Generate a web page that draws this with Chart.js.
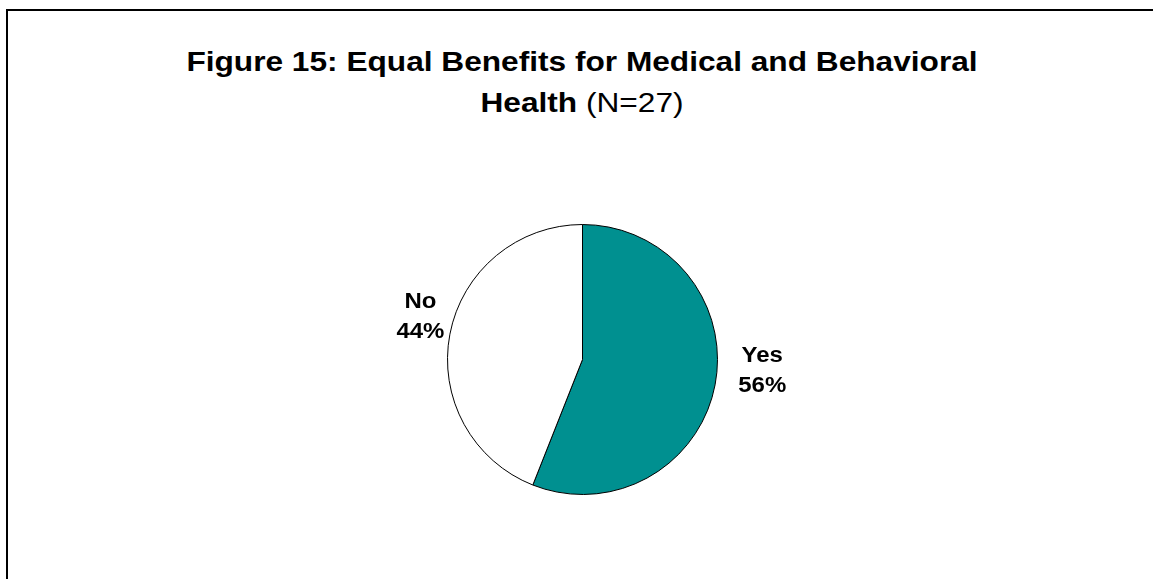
<!DOCTYPE html>
<html>
<head>
<meta charset="utf-8">
<script src="https://cdn.jsdelivr.net/npm/chart.js@4/dist/chart.umd.min.js"></script>
<style>
  html, body { margin: 0; padding: 0; background: #fff; }
  #wrap { position: relative; width: 1153px; height: 579px; overflow: hidden; }
  #frame {
    position: absolute; left: 6px; top: 9px; right: -10px; bottom: -10px;
    border-left: 2px solid #000; border-top: 2px solid #000;
  }
  #title {
    position: absolute; left: 82px; width: 1000px; top: 41px;
    text-align: center; font-family: "Liberation Sans", Arial, sans-serif;
    font-size: 28px; line-height: 41px; color: #000;
    transform: scaleX(1.13); transform-origin: 500px 0;
  }
  #title b { font-weight: bold; }
  canvas { position: absolute; left: 0; top: 0; }
</style>
</head>
<body>
<div id="wrap">
  <div id="frame"></div>
  <div id="title"><b>Figure 15: Equal Benefits for Medical and Behavioral</b><br><b>Health</b> (N=27)</div>
  <canvas id="benefits" width="1153" height="579"></canvas>
</div>
<script>
const categories = ["Yes", "No"];
const percents = [56, 44];
const sliceColors = ["#009090", "#FFFFFF"];

// "Yes / 56%" labels just outside each slice, nudged like the original
const outsideLabels = {
  id: "outsideLabels",
  afterDatasetsDraw(chart) {
    const ctx = chart.ctx;
    const meta = chart.getDatasetMeta(0);
    const gap = [48, 30];
    const lift = [-23, -12];
    ctx.save();
    ctx.font = "bold 22px 'Liberation Sans', Arial, sans-serif";
    ctx.fillStyle = "#000";
    ctx.textAlign = "center";
    ctx.textBaseline = "middle";
    meta.data.forEach((arc, i) => {
      const mid = (arc.startAngle + arc.endAngle) / 2;
      const r = arc.outerRadius + gap[i];
      const x = arc.x + Math.cos(mid) * r;
      const y = arc.y + Math.sin(mid) * r + lift[i];
      ctx.save();
      ctx.translate(x, y);
      ctx.scale(1.09, 1);
      ctx.fillText(categories[i], 0, -15);
      ctx.fillText(percents[i] + "%", 0, 15);
      ctx.restore();
    });
    ctx.restore();
  },
};

new Chart(document.getElementById("benefits"), {
  type: "pie",
  data: {
    labels: categories,
    datasets: [
      {
        data: percents,
        backgroundColor: sliceColors,
        borderColor: "#000",
        borderWidth: 1,
      },
    ],
  },
  options: {
    responsive: false,
    animation: false,
    layout: {
      padding: { left: 312, right: 300, top: 224, bottom: 84 },
    },
    plugins: {
      legend: { display: false },
      tooltip: { enabled: false },
    },
  },
  plugins: [outsideLabels],
});
</script>
</body>
</html>
